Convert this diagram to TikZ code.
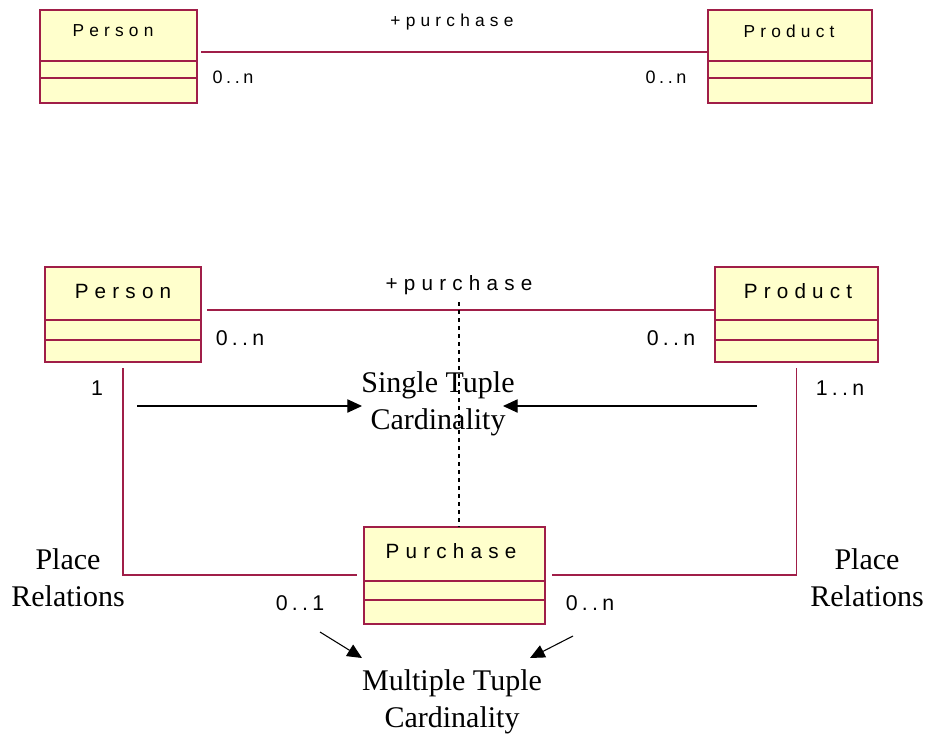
\documentclass[tikz,border=0pt]{standalone}
\usepackage{fontspec}
\usepackage{tikz}
\usepackage{xcolor}
\usetikzlibrary{arrows.meta,fit}
\setmainfont{Liberation Serif}
\newfontfamily\umlsans[LetterSpace=30]{Liberation Sans}
\newfontfamily\umlmult[LetterSpace=20]{Liberation Sans}
\definecolor{umlred}{RGB}{160,30,72}
\definecolor{umlfill}{RGB}{255,255,204}

% box of a class: name, corners, two compartment lines
\newcommand{\umlclass}[7]{%
	\coordinate (#1-nw) at (#2,#3);
	\coordinate (#1-se) at (#4,#5);
	\node[clsbox, fit=(#1-nw)(#1-se)] (#1) {};
	\draw[clsline] (#2,#6) -- (#4,#6) (#2,#7) -- (#4,#7);
}

\begin{document}
\begin{tikzpicture}[x=0.75pt,y=-0.75pt,
		clsbox/.style={draw=umlred, fill=umlfill, line width=1.2pt, inner sep=0pt},
		clsline/.style={umlred, line width=1.2pt},
		assoc/.style={umlred, line width=1.2pt},
		small/.style={font=\umlsans\fontsize{13}{15}\selectfont},
		big/.style={font=\umlsans\fontsize{15.5}{18}\selectfont},
		smallmult/.style={font=\umlmult\fontsize{13.5}{15}\selectfont},
		bigmult/.style={font=\umlmult\fontsize{16}{18}\selectfont},
		note/.style={font=\fontsize{22.5}{27.5}\selectfont, align=center},
		pointer/.style={thick, -{Triangle[length=11pt,width=10pt]}}]
	\useasboundingbox (0,0) rectangle (930,739);
	
	% upper diagram
	\umlclass{person1}{40}{10}{197}{103}{61}{78}
	\umlclass{product1}{708}{10}{872}{103}{61}{78}
	\node[small] at (113,31) {Person};
	\node[small] at (789,31) {Product};
	\draw[assoc, shorten <=2.5pt] (person1.east |- 0,52) -- (product1.west |- 0,52);
	\node[small] at (452,22) {+purchase};
	\node[smallmult] at (233,77) {0..n};
	\node[smallmult] at (666,77) {0..n};
	
	% lower diagram
	\umlclass{person2}{45}{267}{201}{362}{320}{340}
	\umlclass{product2}{715}{267}{878}{362}{320}{340}
	\umlclass{purchase}{364}{527}{545}{624}{581}{600}
	\node[big] at (123,291) {Person};
	\node[big] at (798,291) {Product};
	\node[big] at (451,551) {Purchase};
	
	\draw[assoc, shorten <=4pt] (person2.east |- 0,310) -- (product2.west |- 0,310);
	\node[big] at (459,285) {+purchase};
	\node[bigmult] at (240,338) {0..n};
	\node[bigmult] at (671,338) {0..n};
	
	\draw[assoc, shorten <=4pt, shorten >=5pt] (person2.south) |- (purchase.west |- 0,575);
	\draw[assoc, shorten <=4pt, shorten >=5pt] (product2.south) |- (purchase.east |- 0,575);
	\node[bigmult] at (97,388) {1};
	\node[bigmult] at (840,388) {1..n};
	\node[bigmult] at (300,603) {0..1};
	\node[bigmult] at (590,603) {0..n};
	
	\coordinate (link) at (459,302);
	\draw[thick, dash pattern=on 3pt off 3pt] (link) -- (link |- purchase.north);
	
	\node[note] (single) at (438,404) {Single Tuple\\Cardinality};
	\coordinate (s1) at (137,406);
	\coordinate (s2) at (757,406);
	\draw[pointer] (s1) -- (362,406);
	\draw[pointer] (s2) -- (503,406);
	
	\node[note] (placeL) at (68,578) {Place\\Relations};
	\node[note] (placeR) at (867,578) {Place\\Relations};
	
	\node[note] (multi) at (452,702) {Multiple Tuple\\Cardinality};
	\coordinate (m1) at (320,632);
	\coordinate (m2) at (573,636);
	\draw[pointer] (m1) -- (362,658);
	\draw[pointer] (m2) -- (530,658);
\end{tikzpicture}
\end{document}
